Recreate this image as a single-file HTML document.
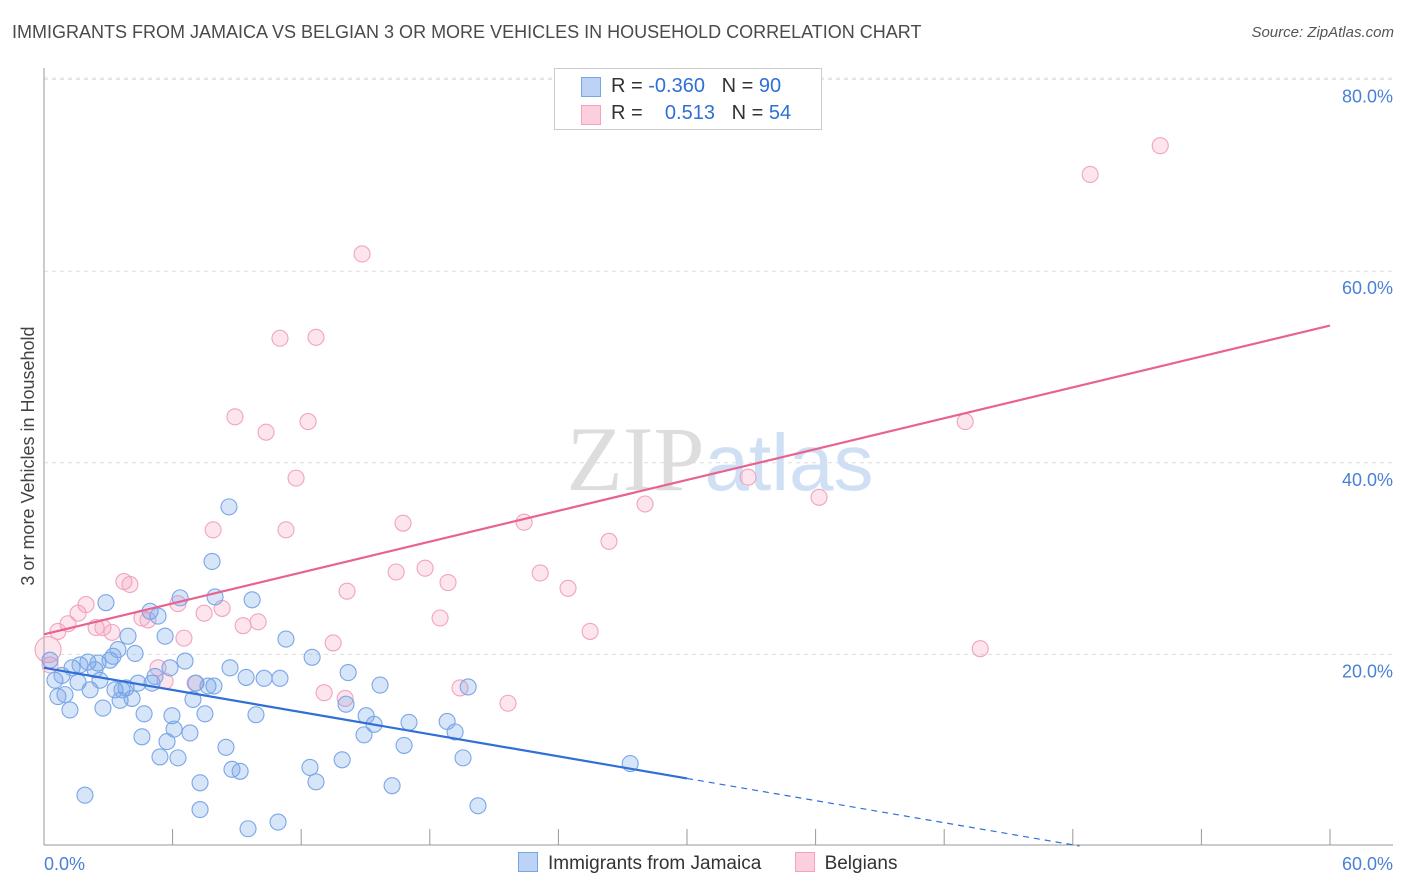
<!DOCTYPE html>
<html><head><meta charset="utf-8"><style>
body{margin:0;background:#fff;font-family:"Liberation Sans",sans-serif;}
#wrap{position:relative;width:1406px;height:892px;overflow:hidden;}
.t{position:absolute;white-space:nowrap;}
</style></head><body>
<div id="wrap">
<div class="t" style="left:12px;top:22px;font-size:18px;color:#4a4a4a;">IMMIGRANTS FROM JAMAICA VS BELGIAN 3 OR MORE VEHICLES IN HOUSEHOLD CORRELATION CHART</div>
<div class="t" style="right:12px;top:24px;font-size:15px;color:#555;font-style:italic;">Source: ZipAtlas.com</div>
<svg id="svg" width="1406" height="892" style="position:absolute;left:0;top:0"></svg>
</div>
<script>
const xTicksLabels=["0.0%","60.0%"];
const yTickValues=[20,40,60,80];
const yTickLabels=["20.0%","40.0%","60.0%","80.0%"];
const jamX=[0.28,0.51,0.65,0.84,0.98,1.21,1.31,1.59,1.68,1.91,2.05,2.15,2.38,2.52,2.61,2.75,2.89,3.08,3.22,3.31,3.45,3.55,3.64,3.83,3.92,4.11,4.25,4.39,4.57,4.67,4.95,5.04,5.18,5.32,5.41,5.65,5.74,5.88,5.97,6.07,6.25,6.35,6.58,6.81,6.95,7.09,7.28,7.28,7.51,7.65,7.84,7.93,7.98,8.49,8.63,8.68,8.77,9.15,9.43,9.52,9.71,9.89,10.27,10.92,11.01,11.29,12.41,12.51,12.69,13.91,14.09,14.19,14.93,15.03,15.40,15.68,16.24,16.80,17.03,18.81,19.18,19.55,19.79,20.25,27.35];
const jamY=[19.4,17.3,15.6,17.8,15.8,14.2,18.6,17.1,18.9,5.3,19.2,16.3,18.4,19.1,17.3,14.4,25.4,19.4,19.8,16.3,20.5,15.2,16.3,16.5,21.9,15.4,20.1,17.0,11.4,13.8,24.5,17.0,17.7,24.0,9.3,21.9,10.9,18.6,13.6,12.2,9.2,25.9,19.3,11.8,15.3,17.0,6.6,3.8,13.8,16.7,29.7,16.7,26.0,10.3,35.4,18.6,8.0,7.8,17.6,1.8,25.7,13.7,17.5,2.5,17.5,21.6,8.2,19.7,6.7,9.0,14.8,18.1,11.6,13.6,12.7,16.8,6.3,10.5,12.9,13.0,11.9,9.2,16.6,4.2,8.6];
const belX=[0.28,0.65,1.12,1.59,1.96,2.43,2.75,3.17,3.73,4.01,4.57,4.85,5.32,5.65,6.25,6.53,7.05,7.47,7.89,8.31,8.91,9.29,9.99,10.36,11.01,11.29,11.76,12.32,12.69,13.07,13.49,14.05,14.14,14.84,16.43,16.75,17.78,18.48,18.85,19.41,21.65,22.40,23.15,24.45,25.48,26.36,28.04,32.85,36.16,42.98,43.68,48.81,52.08];
const belY=[18.9,22.4,23.2,24.3,25.2,22.8,22.8,22.3,27.6,27.3,23.8,23.6,18.6,17.2,25.3,21.7,17.0,24.3,33.0,24.8,44.8,23.0,23.4,43.2,53.0,33.0,38.4,44.3,53.1,16.0,21.2,15.4,26.6,61.8,28.6,33.7,29.0,23.8,27.5,16.5,14.9,33.8,28.5,26.9,22.4,31.8,35.7,38.5,36.4,44.3,20.6,70.1,73.1];
const belBig=[0.19,20.5];
const jamTrend=[18.6,-0.385];
const belTrend=[22.1,0.537];

const X0=44,X1=1330,Y0=846,PY=9.58;
const sx=v=>X0+(X1-X0)*v/60;
const sy=v=>Y0-v*PY;
const svg=document.getElementById('svg');
const NS='http://www.w3.org/2000/svg';
function mk(tag,attrs,parent){const e=document.createElementNS(NS,tag);for(const k in attrs)e.setAttribute(k,attrs[k]);(parent||svg).appendChild(e);return e;}

for(let i=0;i<yTickValues.length;i++){
  const g=mk('line',{x1:44,x2:1393,y1:sy(yTickValues[i]),y2:sy(yTickValues[i]),stroke:'#ddd','stroke-dasharray':'4,4'});
  
  
  const t=mk('text',{x:1393,y:sy(yTickValues[i])+23,'text-anchor':'end','font-size':18,fill:'#4a7fd6','font-family':'Liberation Sans'});
  t.textContent=yTickLabels[i];
  
  
}
mk('line',{x1:44,x2:1393,y1:78,y2:78,stroke:'#ddd','stroke-dasharray':'4,4'});
const ax=mk('line',{x1:44,x2:1393,y1:845,y2:845,stroke:'#999'});


const ay=mk('line',{x1:44,x2:44,y1:68,y2:845,stroke:'#999'});


for(let i=0;i<=10;i++){const x=sx(i*6);const tk=mk('line',{x1:x,x2:x,y1:829,y2:845,stroke:'#999'});

}
const xl0=mk('text',{x:44,y:870,'font-size':18,fill:'#4a7fd6','font-family':'Liberation Sans'});xl0.textContent=xTicksLabels[0];


const xl1=mk('text',{x:1393,y:870,'text-anchor':'end','font-size':18,fill:'#4a7fd6','font-family':'Liberation Sans'});xl1.textContent=xTicksLabels[1];


const yt=mk('text',{x:34,y:456,'text-anchor':'middle','font-size':18,fill:'#444',transform:'rotate(-90 34 456)','font-family':'Liberation Sans'});yt.textContent='3 or more Vehicles in Household';


const wm=mk('text',{x:720,y:490,'text-anchor':'middle','font-size':92,'font-family':'Liberation Serif',fill:'#ddd'});
wm.innerHTML='ZIP<tspan fill="#cfe0f5" font-family="Liberation Sans" font-size="80">atlas</tspan>';


for(let i=0;i<belX.length;i++){const c=mk('circle',{cx:sx(belX[i]),cy:sy(belY[i]),r:8,fill:'rgba(244,160,190,0.28)',stroke:'#f2a3bf','stroke-width':1.1});

}
const bb=mk('circle',{cx:sx(belBig[0]),cy:sy(belBig[1]),r:13,fill:'rgba(244,160,190,0.28)',stroke:'#f2a3bf','stroke-width':1.1});


for(let i=0;i<jamX.length;i++){const c=mk('circle',{cx:sx(jamX[i]),cy:sy(jamY[i]),r:8,fill:'rgba(110,160,230,0.28)',stroke:'#7aa6e8','stroke-width':1.1});

}
const pl=mk('line',{x1:sx(0),y1:sy(belTrend[0]),x2:sx(60),y2:sy(belTrend[0]+60*belTrend[1]),stroke:'#e8638f','stroke-width':2.2});


const bl=mk('line',{x1:sx(0),y1:sy(jamTrend[0]),x2:sx(30),y2:sy(jamTrend[0]+30*jamTrend[1]),stroke:'#2f6fd6','stroke-width':2.2});


const xEnd=-jamTrend[0]/jamTrend[1];
const bd=mk('line',{x1:sx(30),y1:sy(jamTrend[0]+30*jamTrend[1]),x2:sx(xEnd),y2:sy(0),stroke:'#2f6fd6','stroke-width':1.2,'stroke-dasharray':'6,5'});


</script>
<div class="t" style="left:554px;top:68px;width:268px;height:62px;border:1px solid #ccc;background:#fff;box-sizing:border-box;">
 <div style="position:absolute;left:26px;top:8px;width:18px;height:18px;background:#bcd3f5;border:1px solid #7aa6e8;"></div>
 <div style="position:absolute;left:56px;top:6px;font-size:20px;color:#333;">R = <span style="color:#2f6fd6">-0.360</span>&nbsp;&nbsp;&nbsp;N = <span style="color:#2f6fd6">90</span></div>
 <div style="position:absolute;left:26px;top:36px;width:18px;height:18px;background:#fbcfdc;border:1px solid #f2a3bf;"></div>
 <div style="position:absolute;left:56px;top:33px;font-size:20px;color:#333;">R = &nbsp;&nbsp;&nbsp;<span style="color:#2f6fd6">0.513</span>&nbsp;&nbsp;&nbsp;N = <span style="color:#2f6fd6">54</span></div>
</div>
<div class="t" style="left:518px;top:852px;font-size:19px;color:#333;">
 <span><span style="display:inline-block;width:18px;height:18px;background:#bcd3f5;border:1px solid #7aa6e8;vertical-align:-3px;margin-right:10px;"></span>Immigrants from Jamaica</span>
 <span style="margin-left:28px;"><span style="display:inline-block;width:18px;height:18px;background:#fbcfdc;border:1px solid #f2a3bf;vertical-align:-3px;margin-right:10px;"></span>Belgians</span>
</div>
</body></html>
